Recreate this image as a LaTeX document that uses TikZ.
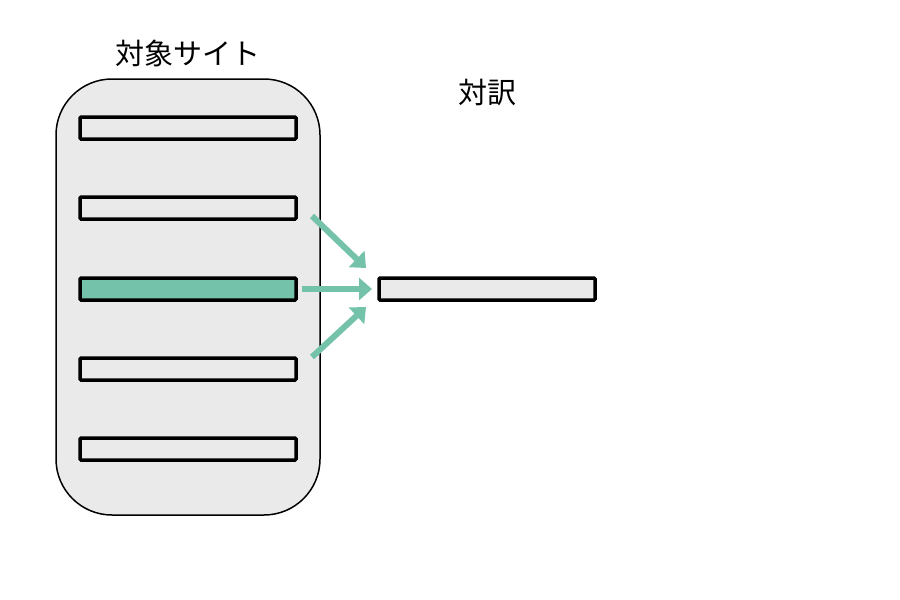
\documentclass[tikz,border=0pt]{standalone}
\usepackage{fontspec}
\newfontfamily\cjk{Noto Sans CJK JP}
\usetikzlibrary{arrows.meta}
\definecolor{teal1}{HTML}{73C2A9}
\definecolor{lgray}{HTML}{EAEAEA}
\begin{document}
\begin{tikzpicture}[x=1pt,y=-1pt,
  bar/.style={draw=black,line width=3.5pt,fill=lgray,rounded corners=1pt},
  hibar/.style={bar,fill=teal1},
  arr/.style={draw=teal1,line width=6pt,-{Triangle[length=13pt,width=22pt]}},
  lbl/.style={font=\cjk\fontsize{29}{32}\selectfont,inner sep=0pt}]
\useasboundingbox (0,0) rectangle (900,600);
\draw[line width=1.5pt,fill=lgray,rounded corners=56pt] (56,79) rectangle (320,515);
\node[lbl] (site) at (188,53) {対象サイト};
\node[lbl] (yaku) at (487,93) {対訳};
\draw[bar] (80,117) rectangle (296,139);
\draw[bar] (80,197) rectangle (296,219);
\draw[hibar] (80,278) rectangle (296,300);
\draw[bar] (80,358) rectangle (296,380);
\draw[bar] (80,438) rectangle (296,460);
\draw[bar] (379,278) rectangle (595,300);
\coordinate (a1s) at (312,216);
\coordinate (a1e) at (366,268);
\coordinate (a2s) at (302,289);
\coordinate (a2e) at (372,289);
\coordinate (a3s) at (312,357);
\coordinate (a3e) at (366,307);
\draw[arr] (a1s) -- (a1e);
\draw[arr] (a2s) -- (a2e);
\draw[arr] (a3s) -- (a3e);
\end{tikzpicture}
\end{document}
